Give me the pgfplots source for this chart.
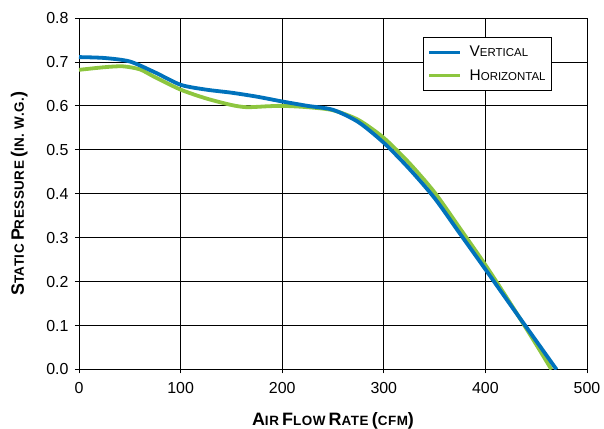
\documentclass[border=0pt]{standalone}
\usepackage{fontspec}
\setmainfont{Liberation Sans}
\usepackage{pgfplots}
\pgfplotsset{compat=1.18}

\definecolor{vblue}{RGB}{0,114,188}
\definecolor{hgreen}{RGB}{141,198,63}

% fake small caps: big letter, then smaller capitals
\newcommand{\bigc}[1]{{\fontsize{15.5}{16}\selectfont #1}}
\newcommand{\smc}[1]{{\fontsize{11.5}{12}\selectfont #1}}
\newcommand{\lbig}[1]{{\fontsize{18}{19}\selectfont #1}}
\newcommand{\lsmc}[1]{{\fontsize{13.5}{14}\selectfont #1}}

\begin{document}
\begin{tikzpicture}
\begin{axis}[
    name=ax,
    scale only axis,
    width=508bp, height=351.5bp,
    xmin=0, xmax=500, ymin=0, ymax=0.8,
    xtick={0,100,...,500},
    ytick={0,0.1,...,0.8},
    grid=major,
    grid style={black, line width=0.8pt},
    axis line style={black, line width=0.9pt},
    tick style={black, line width=0.8pt},
    tick align=outside,
    major tick length=4bp,
    xtick pos=bottom, ytick pos=left,
    tick label style={font=\fontsize{16}{17}\selectfont},
    /pgf/number format/assume math mode=true,
    yticklabel style={xshift=-3bp, /pgf/number format/.cd, fixed, fixed zerofill, precision=1},
    xticklabel style={yshift=-5bp, /pgf/number format/.cd, fixed, precision=0},
    xlabel={\bfseries\addfontfeatures{LetterSpace=4}\lbig{A}\lsmc{IR} \lbig{F}\lsmc{LOW} \lbig{R}\lsmc{ATE} \lbig{(}\lsmc{CFM}\lbig{)}},
    ylabel={\bfseries\addfontfeatures{LetterSpace=4}\lbig{S}\lsmc{TATIC} \lbig{P}\lsmc{RESSURE} \lbig{(}\lsmc{IN. W.G.}\lbig{)}},
    xlabel style={at={([yshift=-56bp]axis description cs:0.5,0)}, anchor=base},
    ylabel style={at={([xshift=-55bp]axis description cs:0,0.5)}, anchor=base},
    legend style={at={(0.931,0.946)}, anchor=north east,
        draw=black, line width=0.8pt, fill=white,
        inner xsep=4bp, inner ysep=7bp, row sep=7bp,
        /tikz/every odd column/.append style={column sep=6bp},
        font=\fontsize{13}{14}\selectfont},
    legend cell align=left,
    legend image post style={line width=3bp},
    legend image code/.code={\draw[#1] (0bp,0bp) -- (31bp,0bp);},
    reverse legend,
]
\addplot[hgreen, line width=3.8bp, smooth, tension=0.45] coordinates {
    (0,0.682) (25,0.688) (43,0.690) (60,0.683) (75,0.665) (100,0.637)
    (125,0.617) (150,0.602) (165,0.597) (185,0.599) (200,0.600)
    (225,0.597) (250,0.590) (275,0.568) (300,0.527) (325,0.470)
    (350,0.403) (375,0.321) (400,0.238) (425,0.149) (450,0.057) (465,0.0)
};
\addplot[vblue, line width=3.8bp, smooth, tension=0.45] coordinates {
    (0,0.711) (25,0.709) (50,0.701) (75,0.676) (100,0.648) (125,0.637)
    (150,0.630) (175,0.621) (200,0.610) (225,0.600) (250,0.591)
    (275,0.563) (300,0.516) (325,0.457) (350,0.390) (375,0.309)
    (400,0.228) (425,0.146) (450,0.065) (470,0.0)
};
\legend{\bigc{H}\smc{ORIZONTAL}, \bigc{V}\smc{ERTICAL}}
\end{axis}
\pgfresetboundingbox
\path[use as bounding box] ([xshift=-79bp,yshift=-59.5bp]ax.south west)
    rectangle ([xshift=17bp,yshift=18bp]ax.north east);
\end{tikzpicture}
\end{document}
